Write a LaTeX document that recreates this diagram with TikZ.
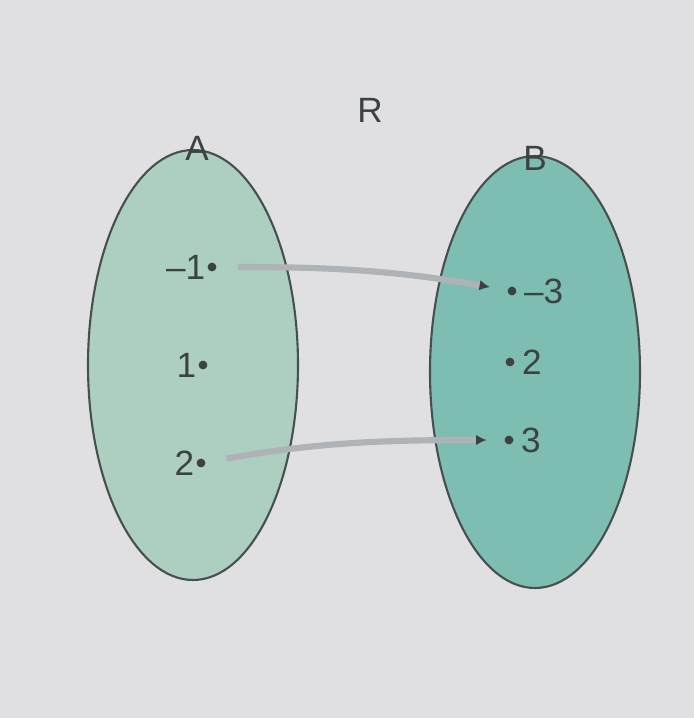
\documentclass[tikz,border=0pt]{standalone}
\usepackage{fontspec}
\setmainfont{Liberation Sans}
\usetikzlibrary{arrows.meta}
\definecolor{paper}{RGB}{224,224,226}
\definecolor{setA}{RGB}{172,207,192}
\definecolor{setB}{RGB}{126,190,178}
\definecolor{rim}{RGB}{70,80,80}
\definecolor{relline}{RGB}{175,178,182}
\definecolor{ink}{RGB}{60,66,66}

\begin{document}
\begin{tikzpicture}[x=0.02cm, y=-0.02cm,
    setshape/.style={draw=rim, line width=1.2pt},
    elem/.style={circle, fill=ink, inner sep=0pt, minimum size=5pt},
    lbl/.style={text=ink, font=\fontsize{20}{24}\selectfont, inner sep=1pt},
    rel/.style={draw=relline, line width=3.5pt, shorten <=12pt, shorten >=10pt,
        -{Latex[length=6pt, width=6pt, color=ink]}}]
    % fondo
    \fill[paper] (0,0) rectangle (694,718);
    \useasboundingbox (0,0) rectangle (694,718);

    % 1. Los conjuntos
    \draw[setshape, fill=setA] (193,365) ellipse [x radius=105, y radius=215];
    \draw[setshape, fill=setB] (535,372) ellipse [x radius=105, y radius=216];
    \node[lbl] (nameA) at (197,148) {A};
    \node[lbl] (nameB) at (535,158) {B};
    \node[lbl] (nameR) at (370,110) {R};

    % 2. Elementos de A
    \node[elem] (a1) at (212,267) {};
    \node[elem] (a2) at (203,365) {};
    \node[elem] (a3) at (201,463) {};
    \node[lbl, left] at (a1.west) {\textendash1};
    \node[lbl, left] at (a2.west) {1};
    \node[lbl, left] at (a3.west) {2};

    % 3. Elementos de B
    \node[elem] (b1) at (512,291) {};
    \node[elem] (b2) at (510,362) {};
    \node[elem] (b3) at (509,440) {};
    \node[lbl, right, inner xsep=4pt] at (b1.east) {\textendash3};
    \node[lbl, right, inner xsep=4pt] at (b2.east) {2};
    \node[lbl, right, inner xsep=4pt] at (b3.east) {3};

    % 4. La relacion
    \draw[rel] (a1) to[out=0, in=170] (b1);
    \draw[rel] (a3) to[out=10, in=180] (b3);
\end{tikzpicture}
\end{document}
